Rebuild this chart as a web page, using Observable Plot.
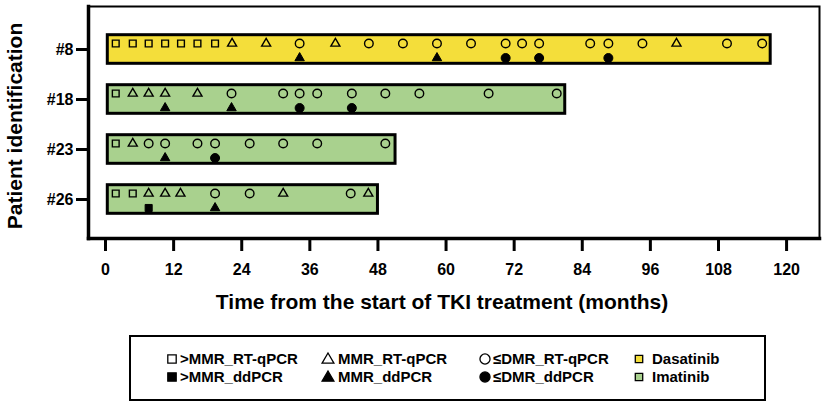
<!DOCTYPE html>
<html><head><meta charset="utf-8">
<script src="https://cdn.jsdelivr.net/npm/d3@7"></script>
<script src="https://cdn.jsdelivr.net/npm/@observablehq/plot@0.6"></script>
<style>
body{margin:0;background:#fff;font-family:"Liberation Sans",Arial,sans-serif;}
#wrap{position:relative;width:829px;height:406px;overflow:hidden;}
#chart{position:absolute;left:0;top:0;}
.lgbox{position:absolute;border:2.5px solid #000;box-sizing:border-box;}
.lgtxt{position:absolute;font-weight:bold;font-size:15px;line-height:18px;white-space:nowrap;color:#000;}
.lgsym{position:absolute;}
</style></head><body><div id="wrap"><div id="chart"></div></div>
<script>
// ---- data (months from start of TKI treatment) ----
const patients = ["#8", "#18", "#23", "#26"];
const drugs = ["Dasatinib", "Imatinib", "Imatinib", "Imatinib"];
const starts = [0.4, 0.4, 0.4, 0.4];
const ends = [117.2, 81.0, 51.1, 48.0];

// RT-qPCR results (open symbols), one list per patient
const gtMMR_RT = [[1.8, 4.8, 7.6, 10.5, 13.3, 16.2, 19.3], [1.8], [1.8], [1.8, 4.8]];
const MMR_RT = [[22.3, 28.3, 40.5, 100.6], [4.8, 7.6, 10.5, 16.2], [4.8], [7.6, 10.5, 13.2, 31.3, 46.3]];
const leDMR_RT = [
  [34.2, 46.4, 52.4, 58.4, 64.4, 70.5, 73.4, 76.4, 85.4, 88.6, 94.6, 109.5, 115.7],
  [22.2, 31.3, 34.2, 37.3, 43.4, 49.3, 55.3, 67.5, 79.5],
  [7.6, 10.5, 16.2, 19.3, 25.4, 31.3, 37.3, 49.3],
  [19.3, 25.4, 43.2]
];
// ddPCR results (filled symbols)
const gtMMR_dd = [[], [], [], [7.6]];
const MMR_dd = [[34.2, 58.4], [10.5, 22.2], [10.5], [19.3]];
const leDMR_dd = [[70.5, 76.4, 88.6], [34.2, 43.4], [19.3], []];

const xTicks = [0, 12, 24, 36, 48, 60, 72, 84, 96, 108, 120];
const levels = [">MMR", "MMR", "≤DMR"];
const levelSymbols = ["square2", "triangle2", "circle"];
const drugNames = ["Dasatinib", "Imatinib"];
const drugColors = ["#f4de3a", "#a9d18e"];
const legendLabels = [">MMR_RT-qPCR", "MMR_RT-qPCR", "≤DMR_RT-qPCR", "Dasatinib", ">MMR_ddPCR", "MMR_ddPCR", "≤DMR_ddPCR", "Imatinib"];
const xTitle = "Time from the start of TKI treatment (months)";
const yTitle = "Patient identification";

// ---- build tables ----
const bars = patients.map((p, i) => ({patient: p, drug: drugs[i], start: starts[i], end: ends[i]}));
function flatten(arrs, level, method) {
  const out = [];
  arrs.forEach((list, i) => list.forEach(m => out.push({patient: patients[i], month: m, level, method})));
  return out;
}
const rt = [...flatten(gtMMR_RT, ">MMR", "RT"), ...flatten(MMR_RT, "MMR", "RT"), ...flatten(leDMR_RT, "≤DMR", "RT")];
const dd = [...flatten(gtMMR_dd, ">MMR", "dd"), ...flatten(MMR_dd, "MMR", "dd"), ...flatten(leDMR_dd, "≤DMR", "dd")];

const chart = Plot.plot({
  width: 829,
  height: 320,
  marginLeft: 88,
  marginRight: 10,
  marginTop: 6,
  marginBottom: 82,
  style: {fontFamily: "'Liberation Sans', Arial, sans-serif", fontSize: "16px", fontWeight: "bold", background: "#fff", color: "#000", overflow: "visible"},
  x: {domain: [-3, 125.8], ticks: xTicks},
  y: {domain: patients, paddingInner: 0, paddingOuter: 0.3, align: 0.55},
  color: {domain: drugNames, range: drugColors},
  symbol: {domain: levels, range: levelSymbols},
  marks: [
    Plot.barX(bars, {x1: "start", x2: "end", y: "patient", fill: "drug", stroke: "#000", strokeWidth: 3, insetTop: 10.7, insetBottom: 10.7}),
    Plot.dot(rt, {x: "month", y: "patient", symbol: "level", r: 4.3, stroke: "#000", strokeWidth: 1.4, fill: "none", dy: -6}),
    Plot.dot(dd, {x: "month", y: "patient", symbol: "level", r: 4.5, stroke: "#000", strokeWidth: 1, fill: "#000", dy: 8.5}),
    Plot.frame({strokeWidth: 2}),
    Plot.frame({anchor: "left", strokeWidth: 3.5}),
    Plot.frame({anchor: "bottom", strokeWidth: 3.5}),
    Plot.axisX({ticks: xTicks, tickSize: 13, tickPadding: 12, strokeWidth: 3, label: null, fontSize: 16, fontWeight: "bold"}),
    Plot.axisY({tickSize: 12, tickPadding: 3, strokeWidth: 3, label: null, fontSize: 16, fontWeight: "bold"}),
    Plot.text([xTitle], {frameAnchor: "bottom", textAnchor: "middle", lineAnchor: "middle", dy: 64, dx: -12, fontSize: 21, fontWeight: "bold"}),
    Plot.text([yTitle], {frameAnchor: "left", textAnchor: "middle", lineAnchor: "middle", dx: -73, dy: 3.5, rotate: -90, fontSize: 21, fontWeight: "bold"})
  ]
});
document.getElementById("chart").appendChild(chart);

// ---- legend (HTML below the plot) ----
const wrap = document.getElementById("wrap");
const box = document.createElement("div");
box.className = "lgbox";
Object.assign(box.style, {left: "129px", top: "335px", width: "637px", height: "66px"});
wrap.appendChild(box);

const symCenters = [172, 328, 485, 639];
const textLefts = [180, 338, 493, 652];
const rowCenters = [359, 377];
const legendSyms = [
  {s: "square", fill: "none"}, {s: "triangle", fill: "none"}, {s: "circle", fill: "none"}, {s: "square", fill: drugColors[0]},
  {s: "square", fill: "#000"}, {s: "triangle", fill: "#000"}, {s: "circle", fill: "#000"}, {s: "square", fill: drugColors[1]}
];
const symPaths = {square: d3.symbolSquare2, triangle: d3.symbolTriangle2, circle: d3.symbolCircle};
legendLabels.forEach((lab, i) => {
  const col = i % 4, row = Math.floor(i / 4);
  const cx = symCenters[col], cy = rowCenters[row];
  const sym = legendSyms[i];
  const size = sym.s === "circle" ? 80 : sym.s === "triangle" ? 100 : (col === 3 ? 70 : 90);
  const svg = d3.create("svg").attr("class", "lgsym").attr("width", 16).attr("height", 16)
    .style("left", (cx - 8) + "px").style("top", (cy - 8) + "px");
  svg.append("path")
    .attr("transform", sym.s === "triangle" ? "translate(8,8.8)" : "translate(8,8)")
    .attr("d", d3.symbol(symPaths[sym.s], size)())
    .attr("fill", sym.fill).attr("stroke", "#000").attr("stroke-width", 1.3);
  wrap.appendChild(svg.node());
  const t = document.createElement("div");
  t.className = "lgtxt";
  t.textContent = lab;
  t.style.left = textLefts[col] + "px";
  t.style.top = (cy - 9) + "px";
  wrap.appendChild(t);
});
</script>
</body></html>
